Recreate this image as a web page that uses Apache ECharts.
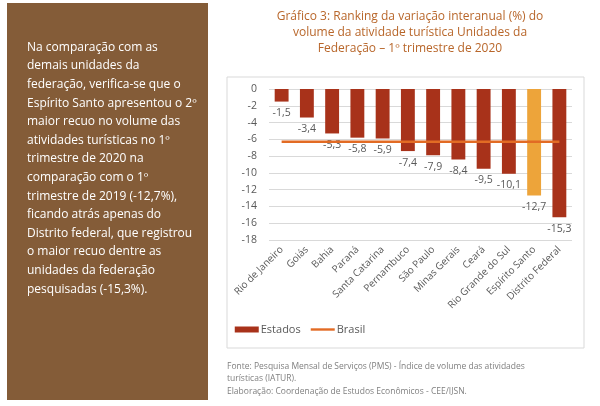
<!DOCTYPE html>
<html>
<head>
<meta charset="utf-8">
<script src="https://cdn.jsdelivr.net/npm/echarts@6/dist/echarts.min.js"></script>
<style>
  body { margin: 0; background: #fff; }
  #chart { width: 600px; height: 406px; }
</style>
</head>
<body>
<div id="chart"></div>
<script>
var estados = ['Rio de Janeiro', 'Goiás', 'Bahia', 'Paraná', 'Santa Catarina', 'Pernambuco', 'São Paulo', 'Minas Gerais', 'Ceará', 'Rio Grande do Sul', 'Espírito Santo', 'Distrito Federal'];
var variacao = [-1.5, -3.4, -5.3, -5.8, -5.9, -7.4, -7.9, -8.4, -9.5, -10.1, -12.7, -15.3];
var brasil = -6.3;
var destaque = 'Espírito Santo';

var panelText = 'Na comparação com as\ndemais unidades da\nfederação, verifica-se que o\nEspírito Santo apresentou o 2º\nmaior recuo no volume das\natividades turísticas no 1º\ntrimestre de 2020 na\ncomparação com o 1º\ntrimestre de 2019 (-12,7%),\nficando atrás apenas do\nDistrito federal, que registrou\no maior recuo dentre as\nunidades da federação\npesquisadas (-15,3%).';

var fmt = function (v) { return String(v).replace('.', ','); };

var chart = echarts.init(document.getElementById('chart'));
var font = '"Open Sans", sans-serif';

var barData = variacao.map(function (v, i) {
    return {
        value: v,
        itemStyle: { color: estados[i] === destaque ? '#EDA43A' : '#A8321A' }
    };
});
var lineData = estados.map(function () { return brasil; });

chart.setOption({
    textStyle: { fontFamily: font },
    title: {
        text: 'Gráfico 3: Ranking da variação interanual (%) do\nvolume da atividade turística Unidades da\nFederação – 1º trimestre de 2020',
        left: 405, top: 4, textAlign: 'center',
        textStyle: { color: '#B8662A', fontSize: 12, fontWeight: 'normal', lineHeight: 16, fontFamily: font }
    },
    graphic: [
        { type: 'rect', shape: { x: 7, y: 3, width: 201, height: 397 }, style: { fill: '#845C38' }, z: -1 },
        { type: 'text', left: 27, top: 38, style: { text: panelText, fill: '#fff', font: '12px "Open Sans", sans-serif', lineHeight: 18.6 } },
        { type: 'rect', shape: { x: 227, y: 77, width: 357, height: 271 }, style: { fill: 'none', stroke: '#d9d9d9', lineWidth: 1 }, z: -1 },
        { type: 'text', left: 227, top: 360, style: { text: 'Fonte: Pesquisa Mensal de Serviços (PMS) - Índice de volume das atividades\nturísticas (IATUR).\nElaboração: Coordenação de Estudos Econômicos - CEE/IJSN.', fill: '#7f7f7f', font: '8.5px "Open Sans", sans-serif', lineHeight: 12.5 } }
    ],
    legend: {
        bottom: 66, left: 'center', itemGap: 10,
        textStyle: { color: '#595959', fontSize: 11, padding: [0, 0, 0, -3] },
        data: [
            { name: 'Estados', icon: 'rect', itemStyle: { color: '#A8321A' } },
            { name: 'Brasil', icon: 'path://M0,0 L10,0 L10,1 L0,1 Z' }
        ],
        itemWidth: 24, itemHeight: 6
    },
    grid: { left: 269, right: 28, top: 89, bottom: 166 },
    xAxis: {
        type: 'category', data: estados, position: 'bottom',
        axisLine: { show: false }, axisTick: { show: false },
        axisLabel: { rotate: 45, interval: 0, color: '#595959', fontSize: 10, margin: 8 }
    },
    yAxis: {
        type: 'value', min: -18, max: 0, interval: 2,
        axisLine: { show: false }, axisTick: { show: false },
        axisLabel: { color: '#595959', fontSize: 10.5, margin: 12 },
        splitLine: { lineStyle: { color: '#d9d9d9' } }
    },
    series: [
        {
            name: 'Estados', type: 'bar', data: barData, barWidth: '55%',
            label: { show: true, position: 'bottom', color: '#595959', fontSize: 10.5, distance: 6, formatter: function (p) { return fmt(p.value); } }
        },
        {
            name: 'Brasil', type: 'line', data: lineData, symbol: 'none',
            lineStyle: { color: '#E26B24', width: 2.5 }, itemStyle: { color: '#E26B24' },
            label: {
                show: true, position: 'top', color: '#595959', fontSize: 10.5, distance: 18, offset: [-3, 0],
                formatter: function (p) { return p.dataIndex === estados.length - 1 ? 'Brasil; ' + fmt(p.value) : ''; }
            },
            z: 3
        }
    ]
});
</script>
</body>
</html>
